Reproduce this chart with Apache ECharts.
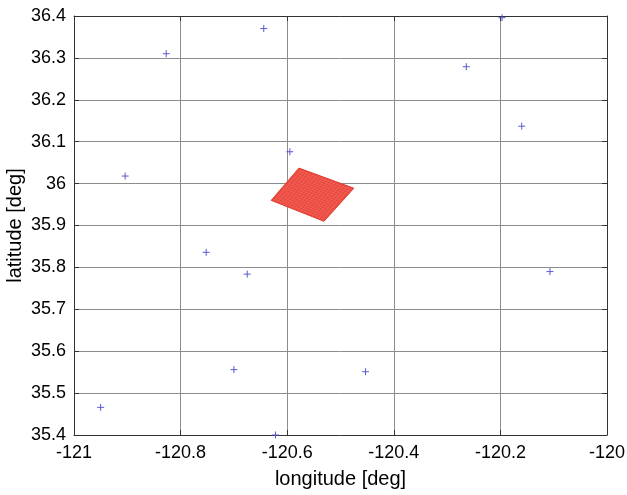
<!DOCTYPE html>
<html>
<head>
<meta charset="utf-8">
<script src="https://cdn.jsdelivr.net/npm/echarts@6/dist/echarts.min.js"></script>
<style>
html,body{margin:0;padding:0;background:#fff;}
#main{width:627px;height:495px;}
</style>
</head>
<body>
<div id="main"></div>
<script>
// Station positions (blue "+")
const stationLon = [-120.827, -120.644, -120.197, -120.264, -120.160, -120.595, -120.904,
                    -120.752, -120.675, -120.107, -120.700, -120.453, -120.950, -120.622];
const stationLat = [36.310, 36.370, 36.396, 36.279, 36.137, 36.076, 36.018,
                    35.836, 35.784, 35.790, 35.556, 35.551, 35.466, 35.400];
// Red footprint patch corners (left, top, right, bottom)
const patchLon = [-120.630, -120.578, -120.475, -120.531];
const patchLat = [35.960, 36.037, 35.989, 35.910];
// Axis ticks
const xTicks = [-121, -120.8, -120.6, -120.4, -120.2, -120];
const yTicks = [35.4, 35.5, 35.6, 35.7, 35.8, 35.9, 36, 36.1, 36.2, 36.3, 36.4];

const FONT = '"Liberation Sans", Arial, Helvetica, sans-serif';
const chart = echarts.init(document.getElementById('main'), null, {renderer: 'canvas'});

const stations = stationLon.map((x, i) => [x, stationLat[i]]);
const patch = [patchLon.map((x, i) => [x, patchLat[i]])];

const axisBase = {
  axisLine: {show: true, onZero: false, lineStyle: {color: '#333', width: 1}},
  axisTick: {show: true, inside: true, length: 5, lineStyle: {color: '#333'}},
};

function lerp(a, b, t) { return [a[0] + (b[0] - a[0]) * t, a[1] + (b[1] - a[1]) * t]; }

const option = {
  animation: false,
  backgroundColor: '#fff',
  grid: {left: 74, right: 20, top: 16, bottom: 60, containLabel: false, outerBoundsMode: 'none'},
  xAxis: [
    Object.assign({
      type: 'value', min: xTicks[0], max: xTicks[xTicks.length - 1], interval: 0.2,
      position: 'bottom',
      name: 'longitude [deg]', nameLocation: 'middle', nameGap: 34, nameMoveOverlap: false,
      nameTextStyle: {fontFamily: FONT, fontSize: 20, color: '#000'},
      axisLabel: {fontFamily: FONT, fontSize: 18, color: '#000', margin: 9,
        formatter: v => String(+v.toFixed(1))},
      splitLine: {show: true, lineStyle: {color: '#8c8c8c', width: 1}}
    }, axisBase),
    Object.assign({
      type: 'value', min: xTicks[0], max: xTicks[xTicks.length - 1], interval: 0.2,
      position: 'top', axisLabel: {show: false}, splitLine: {show: false}
    }, axisBase)
  ],
  yAxis: [
    Object.assign({
      type: 'value', min: yTicks[0], max: yTicks[yTicks.length - 1], interval: 0.1,
      position: 'left',
      name: 'latitude [deg]', nameLocation: 'middle', nameGap: 49, nameRotate: 90, nameMoveOverlap: false,
      nameTextStyle: {fontFamily: FONT, fontSize: 20, color: '#000'},
      axisLabel: {fontFamily: FONT, fontSize: 18, color: '#000', margin: 8,
        formatter: v => String(+v.toFixed(1))},
      splitLine: {show: true, lineStyle: {color: '#8c8c8c', width: 1}}
    }, axisBase),
    Object.assign({
      type: 'value', min: yTicks[0], max: yTicks[yTicks.length - 1], interval: 0.1,
      position: 'right', axisLabel: {show: false}, splitLine: {show: false}
    }, axisBase)
  ],
  series: [
    {
      type: 'custom',
      xAxisIndex: 0, yAxisIndex: 0,
      data: patch.map((p, i) => [i]),
      renderItem: function (params, api) {
        const pts = patch[params.dataIndex].map(p => api.coord(p));
        const [L, T, R, B] = pts;
        const children = [{
          type: 'polygon',
          shape: {points: pts},
          style: {fill: '#e9463c', stroke: '#e03a2e', lineWidth: 1}
        }];
        // mesh texture
        const n = 18;
        const meshStyle = {stroke: 'rgba(255,150,140,0.45)', lineWidth: 0.6};
        for (let k = 1; k < n; k++) {
          const t = k / n;
          const a1 = lerp(L, T, t), a2 = lerp(B, R, t);
          const b1 = lerp(L, B, t), b2 = lerp(T, R, t);
          children.push({type: 'line', shape: {x1: a1[0], y1: a1[1], x2: a2[0], y2: a2[1]}, style: meshStyle});
          children.push({type: 'line', shape: {x1: b1[0], y1: b1[1], x2: b2[0], y2: b2[1]}, style: meshStyle});
        }
        return {type: 'group', children: children};
      }
    },
    {
      type: 'custom',
      xAxisIndex: 0, yAxisIndex: 0,
      data: stations,
      renderItem: function (params, api) {
        const c = api.coord([api.value(0), api.value(1)]);
        const h = 3.5;
        const st = {stroke: '#5a5ad2', lineWidth: 1};
        return {
          type: 'group',
          children: [
            {type: 'line', shape: {x1: c[0] - h, y1: c[1], x2: c[0] + h, y2: c[1]}, style: st},
            {type: 'line', shape: {x1: c[0], y1: c[1] - h, x2: c[0], y2: c[1] + h}, style: st}
          ]
        };
      }
    }
  ]
};
chart.setOption(option);
</script>
</body>
</html>
